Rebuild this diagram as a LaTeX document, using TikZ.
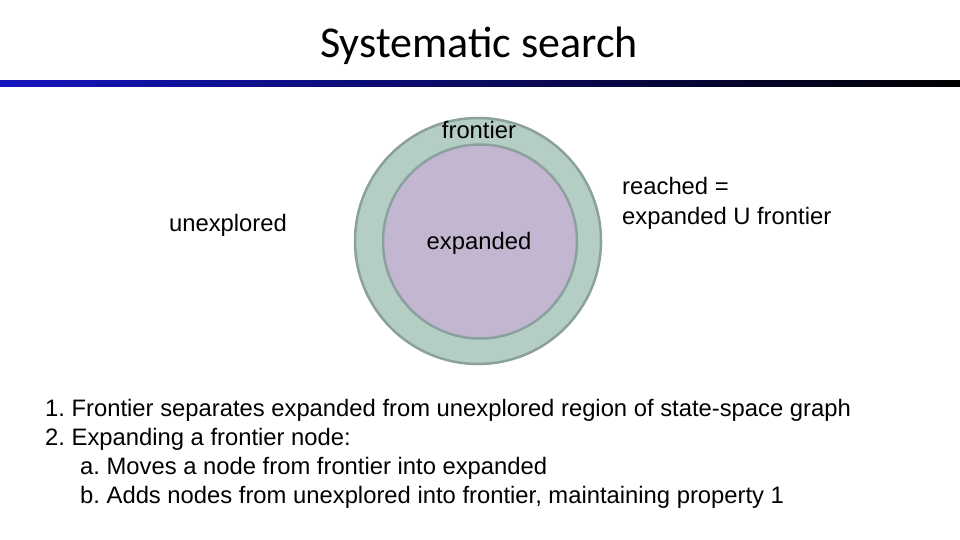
\documentclass[tikz,border=0pt]{standalone}
\usepackage{fontspec}
\setmainfont{Liberation Sans}
\newfontfamily\titlefont{Carlito}
\frenchspacing
\definecolor{ring}{RGB}{180,206,196}
\definecolor{core}{RGB}{194,182,208}
\definecolor{edge}{RGB}{140,160,160}
\definecolor{barblue}{RGB}{20,20,190}
\tikzset{lbl/.style={font=\fontsize{23.8}{28}\selectfont\frenchspacing, inner sep=0pt, anchor=base}}
\begin{document}
\begin{tikzpicture}[x=1pt,y=-1pt]
\useasboundingbox (0,0) rectangle (960,540);
\node[inner sep=0pt, anchor=base, font=\titlefont\fontsize{44}{50}\selectfont] (title) at (479,58) {Systematic search};
\shade[left color=barblue, right color=black] (0,81) rectangle (960,87);
\draw[edge, line width=2.5pt, fill=ring] (478,241) circle (123);
\draw[edge, line width=2.5pt, fill=core] (480,241.5) circle (97);
\node[lbl] (fr) at (479,139) {frontier};
\node[lbl] (ex) at (479,249) {expanded};
\node[lbl] (un) at (228,231) {unexplored};
\node[lbl, anchor=base west] (re) at (622,194) {reached =};
\node[lbl, anchor=base west] (re2) at (622,224) {expanded U frontier};
\node[lbl, anchor=base west] (l1) at (45,416) {1. Frontier separates expanded from unexplored region of state-space graph};
\node[lbl, anchor=base west] (l2) at (45,445) {2. Expanding a frontier node:};
\node[lbl, anchor=base west] (l3) at (80,474) {a. Moves a node from frontier into expanded};
\node[lbl, anchor=base west] (l4) at (80,503) {b. Adds nodes from unexplored into frontier, maintaining property 1};
\end{tikzpicture}
\end{document}
